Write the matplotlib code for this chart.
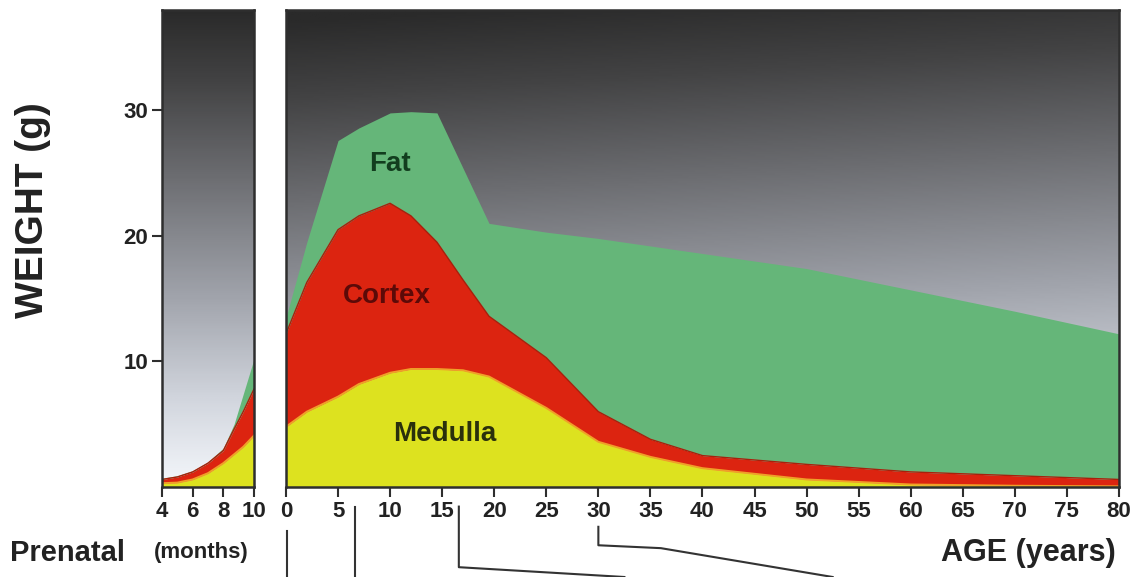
import numpy as np
import matplotlib
matplotlib.use("Agg")
import matplotlib.pyplot as plt
from matplotlib.colors import LinearSegmentedColormap
from matplotlib.lines import Line2D
from matplotlib.transforms import blended_transform_factory

# prenatal part (months)
months = [4, 5, 6, 7, 8, 8.7, 9.3, 10]
pre_medulla = [0.3, 0.35, 0.6, 1.1, 1.9, 2.6, 3.2, 4.1]
pre_cortex = [0.6, 0.8, 1.2, 1.9, 2.9, 4.6, 6.0, 7.8]      # top of cortex band
pre_total = [0.7, 0.9, 1.3, 2.0, 3.1, 5.0, 7.4, 10.2]      # top of fat band

# postnatal part (years)
age = [0, 2, 5, 7, 10, 12, 14.5, 17, 19.5, 25, 30, 35, 40, 50, 60, 70, 80]
medulla = [4.8, 6.0, 7.2, 8.2, 9.1, 9.4, 9.4, 9.3, 8.8, 6.3, 3.6, 2.4, 1.5, 0.6, 0.2, 0.1, 0.05]
cortex = [12.2, 16.3, 20.5, 21.6, 22.6, 21.6, 19.5, 16.5, 13.6, 10.3, 6.0, 3.8, 2.5, 1.8, 1.2, 0.9, 0.6]
total = [13.5, 19.5, 27.6, 28.6, 29.8, 29.9, 29.8, 25.4, 21.0, 20.3, 19.8, 19.2, 18.6, 17.4, 15.7, 14.0, 12.2]

month_ticks = [4, 6, 8, 10]
age_ticks = list(range(0, 81, 5))
weight_ticks = [10, 20, 30]

plt.rcParams["font.family"] = ["Liberation Sans", "DejaVu Sans"]

YELLOW = "#dde21f"
RED = "#dc2410"
GREEN = "#65b679"
EDGE = "#2e2e2e"

bg = LinearSegmentedColormap.from_list("bg", [
    (0.0, "#f4f7fb"), (0.18, "#d2d6de"), (0.4, "#a0a3ab"),
    (0.65, "#6c6d71"), (0.85, "#434344"), (1.0, "#2a2a2a")])

fig = plt.figure(figsize=(11.43, 5.77), dpi=100)
ax1 = fig.add_axes([0.1417, 0.156, 0.0805, 0.8267])
ax2 = fig.add_axes([0.2502, 0.156, 0.7288, 0.8267])

yy = np.linspace(0, 1, 300)[:, None]
xx = np.linspace(0, 1, 300)[None, :]
ax1.imshow(yy + 0 * xx, extent=[0, 1, 0, 1], transform=ax1.transAxes,
           cmap=bg, origin="lower", aspect="auto", zorder=0)
ax2.imshow(np.clip(yy * 0.92 + (1 - xx) * 0.1, 0, 1), extent=[0, 1, 0, 1],
           transform=ax2.transAxes, cmap=bg, origin="lower", aspect="auto", zorder=0)


def layers(ax, x, med, cor, tot):
    ax.fill_between(x, 0, med, color=YELLOW, lw=0, zorder=2)
    ax.fill_between(x, med, cor, color=RED, lw=0, zorder=2)
    ax.fill_between(x, cor, tot, color=GREEN, lw=0, zorder=2)
    ax.plot(x, med, color="#f0a028", lw=1.4, zorder=3)
    ax.plot(x, cor, color="#a8200c", lw=1.0, zorder=3)


layers(ax1, months, pre_medulla, pre_cortex, pre_total)
layers(ax2, age, medulla, cortex, total)

ax1.set_xlim(4, 10)
ax2.set_xlim(0, 80)
for ax in (ax1, ax2):
    ax.set_ylim(0, 38)
    for s in ax.spines.values():
        s.set_color(EDGE)
        s.set_linewidth(1.8)
        s.set_zorder(5)
    ax.tick_params(direction="out", length=7, width=1.5, color=EDGE,
                   labelcolor="#222222", pad=3, labelsize=16)
ax1.set_xticks(month_ticks)
ax1.set_yticks(weight_ticks)
ax2.set_xticks(age_ticks)
ax2.set_yticks([])
for ax in (ax1, ax2):
    for lab in ax.get_xticklabels() + ax.get_yticklabels():
        lab.set_fontweight("bold")

ax2.text(10, 25.7, "Fat", ha="center", va="center", fontsize=20,
         fontweight="bold", color="#123d1e", zorder=4)
ax2.text(9.7, 15.2, "Cortex", ha="center", va="center", fontsize=20,
         fontweight="bold", color="#5c0a08", zorder=4)
ax2.text(15.2, 4.2, "Medulla", ha="center", va="center", fontsize=20,
         fontweight="bold", color="#2a300c", zorder=4)

fig.text(0.029, 0.635, "WEIGHT (g)", rotation=90, ha="center", va="center",
         fontsize=28, fontweight="bold", color="#222222")
fig.text(0.009, 0.042, "Prenatal", ha="left", va="center", fontsize=21,
         fontweight="bold", color="#222222")
fig.text(0.176, 0.042, "(months)", ha="center", va="center", fontsize=16,
         fontweight="bold", color="#222222")
fig.text(0.976, 0.042, "AGE (years)", ha="right", va="center", fontsize=22,
         fontweight="bold", color="#222222")

# bracket lines below the age axis
tr = blended_transform_factory(ax2.transData, fig.transFigure)
brackets = [
    ([0.1, 0.1], [0.08, 0.0]),
    ([6.6, 6.6], [0.122, 0.0]),
    ([16.6, 16.6, 32.5], [0.122, 0.017, 0.0]),
    ([30, 30, 36, 52.5], [0.087, 0.055, 0.05, 0.0]),
]
for bx, by in brackets:
    fig.add_artist(Line2D(bx, by, transform=tr, color="#333333", lw=1.5))

fig.savefig("out.png", dpi=100)
